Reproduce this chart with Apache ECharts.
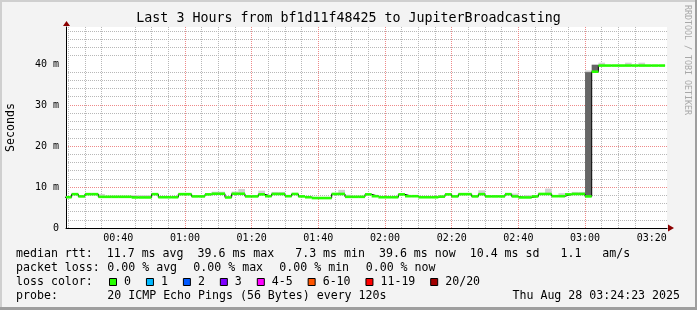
<!DOCTYPE html>
<html><head><meta charset="utf-8">
<script src="https://cdn.jsdelivr.net/npm/echarts@6/dist/echarts.min.js"></script>
<style>html,body{margin:0;padding:0;background:#f3f3f3}#c{width:697px;height:310px}</style>
</head><body><div id="c"></div><script>
// ---------------- data ----------------
const titleText = 'Last 3 Hours from bf1d11f48425 to JupiterBroadcasting';
const yAxisName = 'Seconds';
const sideText = 'RRDTOOL / TOBI OETIKER';
const viewStart = '00:24:19';
const viewEnd = '03:24:35';
const stepMinutes = 2;
const stepEnds = [
 '00:26','00:28','00:30','00:32','00:34','00:36','00:38','00:40','00:42','00:44','00:46','00:48','00:50','00:52','00:54','00:56','00:58',
 '01:00','01:02','01:04','01:06','01:08','01:10','01:12','01:14','01:16','01:18','01:20','01:22','01:24','01:26','01:28','01:30','01:32','01:34','01:36','01:38','01:40','01:42','01:44','01:46','01:48','01:50','01:52','01:54','01:56','01:58',
 '02:00','02:02','02:04','02:06','02:08','02:10','02:12','02:14','02:16','02:18','02:20','02:22','02:24','02:26','02:28','02:30','02:32','02:34','02:36','02:38','02:40','02:42','02:44','02:46','02:48','02:50','02:52','02:54','02:56','02:58',
 '03:00','03:02','03:04','03:06','03:08','03:10','03:12','03:14','03:16','03:18','03:20','03:22','03:24'
];
// median rtt (ms) per step
const medianMs = [
 7.5, 8.25, 7.7, 8.25, 8.25, 7.6, 7.6, 7.6, 7.6, 7.6, 7.45, 7.45, 7.45, 8.25, 7.5, 7.5, 7.5,
 8.25, 8.25, 7.7, 7.7, 8.2, 8.35, 8.35, 7.45, 8.35, 8.35, 7.7, 7.7, 8.2, 7.75, 8.3, 8.3, 7.75, 8.3, 7.7, 7.5, 7.3, 7.3, 7.3, 8.3, 8.3, 7.6, 7.6, 7.6, 8.2, 7.75,
 7.5, 7.5, 7.5, 8.2, 7.75, 7.75, 7.5, 7.5, 7.5, 7.65, 8.2, 7.7, 8.25, 8.25, 7.7, 8.25, 7.7, 7.7, 7.7, 8.25, 7.7, 7.45, 7.45, 7.7, 8.3, 8.3, 7.75, 7.75, 8.2, 8.3,
 8.3, 7.7, 38.1, 39.6, 39.6, 39.6, 39.6, 39.6, 39.6, 39.6, 39.6, 39.6, 39.6
];
// top of the (light) smoke per step (ms)
const smokeTopMs = [
 7.5, 8.25, 7.7, 8.25, 8.25, 8.3, 7.6, 7.6, 7.6, 7.6, 8.0, 8.0, 8.0, 8.25, 7.5, 7.5, 7.5,
 8.25, 8.25, 7.7, 7.7, 8.2, 8.85, 8.85, 7.45, 8.9, 9.5, 8.0, 8.0, 9.1, 7.75, 8.8, 8.8, 7.75, 8.3, 7.7, 7.5, 7.3, 7.3, 7.3, 8.5, 9.3, 8.1, 7.6, 7.6, 8.2, 7.75,
 7.5, 7.5, 7.5, 8.2, 7.75, 7.75, 7.5, 7.5, 7.5, 7.65, 8.2, 7.7, 8.25, 8.25, 7.7, 9.2, 7.7, 7.7, 7.7, 8.25, 8.4, 7.45, 8.0, 7.7, 8.3, 9.6, 7.75, 8.5, 8.2, 8.8,
 8.8, 38.4, 39.8, 40.3, 39.6, 39.6, 39.6, 40.3, 39.6, 40.3, 39.6, 39.6, 39.6
];
// dense (dark) smoke where pings split between two levels
const darkSmokeEnds = ['03:02', '03:04'];
const darkSmokeLoMs = [7.7, 38.1];
const darkSmokeHiMs = [38.0, 39.8];

const xMajorTicks = ['00:40','01:00','01:20','01:40','02:00','02:20','02:40','03:00','03:20'];
const xMinorTicks = ['00:25','00:30','00:35','00:45','00:50','00:55','01:05','01:10','01:15','01:25','01:30','01:35','01:45','01:50','01:55',
 '02:05','02:10','02:15','02:25','02:30','02:35','02:45','02:50','02:55','03:05','03:10','03:15'];
const yMax = 49;
const yMajorTicks = [0, 10, 20, 30, 40];
const yMinorTicks = [2, 4, 6, 8, 12, 14, 16, 18, 22, 24, 26, 28, 32, 34, 36, 38, 42, 44, 46, 48];

const legendLine1 = 'median rtt:  11.7 ms avg  39.6 ms max   7.3 ms min  39.6 ms now  10.4 ms sd   1.1   am/s';
const lossHead = 'packet loss:';
const lossValues = ['0.00 % avg', '0.00 % max', '0.00 % min', '0.00 % now'];
const lossColorHead = 'loss color:';
const lossLabels = ['0', '1', '2', '3', '4-5', '6-10', '11-19', '20/20'];
const lossColors = ['#26ff00', '#00b8ff', '#0059ff', '#7e00ff', '#ff00ff', '#ff5500', '#ff0000', '#a10000'];
const probeHead = 'probe:';
const probeText = '20 ICMP Echo Pings (56 Bytes) every 120s';
const stampText = 'Thu Aug 28 03:24:23 2025';

// ---------------- build ----------------
const toMin = s => { const p = s.split(':').map(Number); return p[0] * 60 + p[1] + (p[2] || 0) / 60; };
const xMin = toMin(viewStart), xMax = toMin(viewEnd);
const ends = stepEnds.map(toMin);
const darkMap = {};
darkSmokeEnds.forEach((t, i) => { darkMap[toMin(t)] = [darkSmokeLoMs[i], darkSmokeHiMs[i]]; });
const rows = ends.map((e, i) => [Math.max(e - stepMinutes, xMin), e, medianMs[i], smokeTopMs[i]]);
const lineData = [[ends[0] - stepMinutes, medianMs[0]]].concat(ends.map((e, i) => [e, medianMs[i]]));
const labelOf = {};
xMajorTicks.forEach(t => { labelOf[toMin(t)] = t; });

const MONO = '"DejaVu Sans Mono", monospace';
const chart = echarts.init(document.getElementById('c'), null, { renderer: 'canvas' });

function rectBetween(api, x0, x1, v0, v1) {
  const a = api.coord([x0, v1]), b = api.coord([x1, v0]);
  return { x: a[0], y: a[1], width: b[0] - a[0], height: b[1] - a[1] };
}

const gridLineMinor = { show: true, lineStyle: { color: '#b8b8b8', width: 1, type: [1, 1] } };
const gridLineMajor = { show: true, lineStyle: { color: '#ee8a8a', width: 1, type: [1, 1] }, showMinLine: false, showMaxLine: false };

const CW = 6.95; // mono char width at legend font
const graphics = [];
// frame
graphics.push({ type: 'rect', shape: { x: 0, y: 0, width: 697, height: 2 }, style: { fill: '#cfcfcf' }, silent: true });
graphics.push({ type: 'rect', shape: { x: 0, y: 0, width: 2, height: 310 }, style: { fill: '#cfcfcf' }, silent: true });
graphics.push({ type: 'rect', shape: { x: 0, y: 307, width: 697, height: 3 }, style: { fill: '#9e9e9e' }, silent: true });
graphics.push({ type: 'rect', shape: { x: 695, y: 0, width: 2, height: 310 }, style: { fill: '#9e9e9e' }, silent: true });
// arrows
graphics.push({ type: 'polygon', shape: { points: [[63, 26], [70, 26], [66.5, 21]] }, style: { fill: '#8b0000' }, silent: true, z: 10 });
graphics.push({ type: 'polygon', shape: { points: [[668, 224.5], [668, 231.5], [674, 228]] }, style: { fill: '#8b0000' }, silent: true, z: 10 });
// title and side texts
graphics.push({ type: 'text', x: 348.5, y: 19, style: { text: titleText, font: '13.3px ' + MONO, fill: '#000', align: 'center', verticalAlign: 'middle' } });
graphics.push({ type: 'text', x: 10.5, y: 127.5, rotation: Math.PI / 2, style: { text: yAxisName, font: '11.6px ' + MONO, fill: '#000', align: 'center', verticalAlign: 'middle' } });
graphics.push({ type: 'text', x: 687, y: 60, rotation: -Math.PI / 2, style: { text: sideText, font: '8.3px ' + MONO, fill: '#a8a8a8', align: 'center', verticalAlign: 'middle' } });
// legend
const LF = '11.6px ' + MONO;
graphics.push({ type: 'text', x: 16, y: 254, style: { text: legendLine1, font: LF, fill: '#000', align: 'left', verticalAlign: 'middle' } });
graphics.push({ type: 'text', x: 16, y: 268, style: { text: lossHead, font: LF, fill: '#000', align: 'left', verticalAlign: 'middle' } });
const lossX = [107.3, 193.3, 279.3, 365.7];
lossValues.forEach((t, i) => graphics.push({ type: 'text', x: lossX[i], y: 268, style: { text: t, font: LF, fill: '#000', align: 'left', verticalAlign: 'middle' } }));
graphics.push({ type: 'text', x: 16, y: 282.3, style: { text: lossColorHead, font: LF, fill: '#000', align: 'left', verticalAlign: 'middle' } });
let bx = 109;
lossLabels.forEach((t, i) => {
  graphics.push({ type: 'rect', shape: { x: bx + 0.5, y: 278.5, width: 7, height: 7 }, style: { fill: lossColors[i], stroke: '#000', lineWidth: 1 } });
  graphics.push({ type: 'text', x: bx + 15, y: 282.3, style: { text: t, font: LF, fill: '#000', align: 'left', verticalAlign: 'middle' } });
  bx = bx + 15 + t.length * CW + 15;
});
graphics.push({ type: 'text', x: 16, y: 296, style: { text: probeHead, font: LF, fill: '#000', align: 'left', verticalAlign: 'middle' } });
graphics.push({ type: 'text', x: 107.3, y: 296, style: { text: probeText, font: LF, fill: '#000', align: 'left', verticalAlign: 'middle' } });
graphics.push({ type: 'text', x: 680, y: 296, style: { text: stampText, font: LF, fill: '#000', align: 'right', verticalAlign: 'middle' } });

const option = {
  animation: false,
  backgroundColor: '#f3f3f3',
  grid: { left: 66, top: 27, width: 601, height: 201, show: true, backgroundColor: '#ffffff', borderWidth: 0 },
  xAxis: [
    { type: 'value', min: xMin, max: xMax, position: 'bottom',
      axisLine: { show: false }, axisLabel: { show: false },
      axisTick: { show: false, customValues: xMinorTicks.map(toMin) },
      splitLine: gridLineMinor },
    { type: 'value', min: xMin, max: xMax, position: 'bottom',
      axisLine: { show: true, lineStyle: { color: '#000', width: 1 } },
      axisTick: { show: false, customValues: xMajorTicks.map(toMin) },
      axisLabel: { show: true, customValues: xMajorTicks.map(toMin), margin: 5, fontSize: 10, fontFamily: MONO, color: '#000',
        formatter: v => labelOf[v] || '' },
      splitLine: gridLineMajor }
  ],
  yAxis: [
    { type: 'value', min: 0, max: yMax, position: 'left',
      axisLine: { show: false }, axisLabel: { show: false },
      axisTick: { show: false, customValues: yMinorTicks },
      splitLine: gridLineMinor },
    { type: 'value', min: 0, max: yMax, position: 'left',
      axisLine: { show: true, lineStyle: { color: '#000', width: 1 } },
      axisTick: { show: false, customValues: yMajorTicks },
      axisLabel: { show: true, customValues: yMajorTicks, margin: 7, fontSize: 10, fontFamily: MONO, color: '#000',
        formatter: v => (v === 0 ? '0' : v + ' m') },
      splitLine: gridLineMajor }
  ],
  series: [
    { type: 'custom', name: 'smoke', xAxisIndex: 0, yAxisIndex: 0, z: 2, clip: true, silent: true,
      data: rows,
      renderItem: (params, api) => {
        const r = rows[params.dataIndex];
        const children = [];
        if (r[3] > r[2]) children.push({ type: 'rect', shape: rectBetween(api, r[0], r[1], r[2], r[3]), style: { fill: '#d2d2d2' } });
        const d = darkMap[r[1]];
        if (d) children.push({ type: 'rect', shape: rectBetween(api, r[0], r[1], d[0], d[1]), style: { fill: '#666666' } });
        return { type: 'group', children };
      } },
    { type: 'line', name: 'median', xAxisIndex: 0, yAxisIndex: 0, z: 3, step: 'start', symbol: 'none', silent: true,
      lineStyle: { color: '#000', width: 1 }, data: lineData },
    { type: 'custom', name: 'loss 0', xAxisIndex: 0, yAxisIndex: 0, z: 4, clip: true, silent: true,
      data: rows,
      renderItem: (params, api) => {
        const r = rows[params.dataIndex];
        const a = api.coord([r[0], r[2]]), b = api.coord([r[1], r[2]]);
        return { type: 'rect', shape: { x: a[0], y: a[1] - 1.3, width: b[0] - a[0], height: 2.6 }, style: { fill: lossColors[0] } };
      } }
  ],
  graphic: graphics
};
chart.setOption(option);
</script></body></html>
